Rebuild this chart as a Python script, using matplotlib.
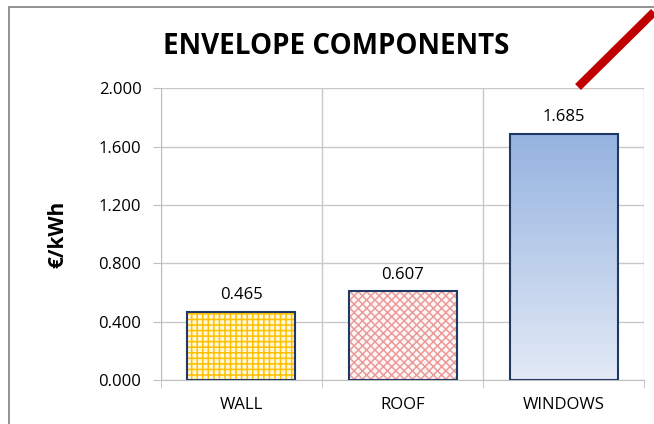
import numpy as np
import matplotlib
matplotlib.use('Agg')
from matplotlib import pyplot as plt
from matplotlib.patches import Rectangle
from matplotlib.lines import Line2D

categories = ['WALL', 'ROOF', 'WINDOWS']
values = [0.465, 0.607, 1.685]
yticks = [0.0, 0.4, 0.8, 1.2, 1.6, 2.0]

plt.rcParams['font.family'] = ['Open Sans', 'DejaVu Sans']
plt.rcParams['hatch.linewidth'] = 1.1

fig = plt.figure(figsize=(6.54, 4.24), dpi=100)
ax = fig.add_axes([0.246, 0.104, 0.739, 0.688])

x = np.arange(len(categories))
w = 0.67
navy = '#1f3864'

# wall: brick pattern
ax.bar(x[0], values[0], w, color='#fff8d8', edgecolor='#ffc000', hatch='+++', lw=0, zorder=2)
# roof: zigzag
ax.bar(x[1], values[1], w, color='#fff6f6', edgecolor='#eb9a9a', hatch='xxxx', lw=0, zorder=2)
# windows: gradient
grad = np.linspace(0, 1, 256).reshape(-1, 1)
cmap = matplotlib.colors.LinearSegmentedColormap.from_list('g', ['#e3eaf6', '#95b3e0'])
img = ax.imshow(grad, cmap=cmap, origin='lower', aspect='auto',
                extent=[x[2] - w / 2, x[2] + w / 2, 0, values[2]], zorder=2)
clip = Rectangle((x[2] - w / 2, 0), w, values[2], transform=ax.transData, fc='none')
ax.add_patch(clip)
img.set_clip_path(clip)
# outlines
ax.bar(x, values, w, fill=False, edgecolor=navy, lw=1.5, zorder=3)

for xi, v in zip(x, values):
    ax.text(xi, v + 0.06, f'{v:.3f}', ha='center', va='bottom', fontsize=12)

ax.set_xlim(-0.5, len(categories) - 0.5)
ax.set_ylim(0, 2.0)
ax.set_yticks(yticks)
ax.set_yticklabels([f'{t:.3f}' for t in yticks], fontsize=12)
ax.set_xticks(x)
ax.set_xticklabels(categories, fontsize=12)
ax.set_xticks(np.arange(len(categories) + 1) - 0.5, minor=True)
ax.tick_params(axis='x', which='major', length=0, pad=12)
ax.tick_params(axis='x', which='minor', length=6, color='#bfbfbf')
ax.tick_params(axis='y', length=6, color='#bfbfbf', pad=8)
ax.grid(True, axis='y', color='#c8c8c8', lw=1, zorder=0)
ax.grid(True, axis='x', which='minor', color='#c8c8c8', lw=1, zorder=0)
for s in ['top', 'right']:
    ax.spines[s].set_visible(False)
ax.spines['left'].set_color('#bfbfbf')
ax.spines['bottom'].set_color('#bfbfbf')
ax.set_axisbelow(True)

ax.set_ylabel('€/kWh', fontsize=15, fontweight='bold', labelpad=22)
fig.text(0.514, 0.89, 'ENVELOPE COMPONENTS', ha='center', va='center',
         fontsize=20, fontweight='bold')

# chart frame
fig.patches.append(Rectangle((9 / 654, -0.1), 1.2, 1 - 7 / 424 + 0.1, transform=fig.transFigure,
                             fill=False, edgecolor='#808080', lw=1.2))
# red line
fig.lines.append(Line2D([578 / 654, 1.0], [1 - 87 / 424, 1 - 12 / 424], transform=fig.transFigure,
                        color='#c00000', lw=6, solid_capstyle='butt'))

fig.savefig('out.png', dpi=100)
